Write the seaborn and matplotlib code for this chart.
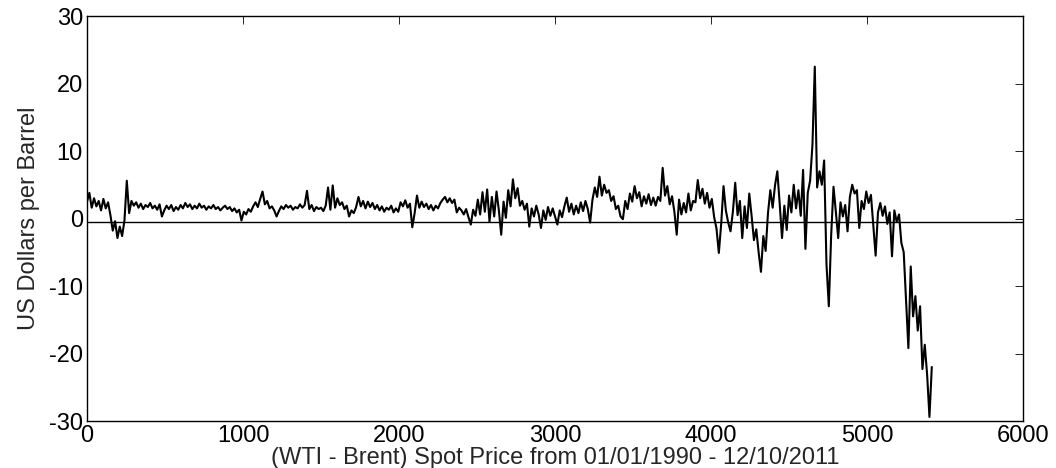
import numpy as np
import pandas as pd
import matplotlib
matplotlib.use('Agg')
import matplotlib.pyplot as plt
import seaborn as sns

# WTI - Brent spread, every 15 trading days
spread = [
    2.5, 3.8, 1.6, 3.0, 1.8, 2.6, 1.2, 2.9, 1.5, 2.4, 0.5, -1.8, -0.4, -2.9, -1.2, -2.6, -0.3, 5.6, 0.8, 2.6,
    1.9, 2.4, 1.6, 2.2, 1.4, 2.0, 1.7, 2.3, 1.5, 1.9, 1.3, 2.1, 0.3, 1.2, 1.9, 1.4, 2.0, 1.1, 1.7, 1.3,
    2.0, 1.5, 2.3, 1.7, 2.1, 1.4, 1.9, 1.5, 2.2, 1.6, 1.9, 1.3, 1.8, 1.5, 2.0, 1.4, 1.7, 1.2, 1.6, 1.9,
    1.4, 1.7, 1.1, 1.5, 0.9, 1.3, -0.3, 1.0, 0.6, 1.4, 1.0, 1.8, 2.4, 1.7, 2.9, 4.0, 2.1, 2.6, 1.5, 1.8,
    1.2, 0.3, 1.1, 1.8, 1.4, 2.0, 1.6, 1.9, 1.3, 1.7, 1.5, 2.1, 1.6, 2.0, 4.1, 1.4, 2.0, 1.1, 1.7, 1.4,
    1.6, 1.1, 1.9, 4.6, 1.3, 4.9, 1.6, 3.0, 2.0, 2.4, 1.4, 1.9, 0.3, 1.2, 0.8, 1.7, 3.2, 1.8, 2.6, 1.5,
    2.5, 1.7, 2.3, 1.4, 2.0, 1.2, 1.8, 1.0, 1.6, 1.3, 1.9, 0.9, 1.5, 1.0, 2.4, 1.8, 2.7, 1.6, 2.2, -1.3,
    0.8, 3.4, 1.6, 2.5, 1.7, 2.2, 1.4, 2.0, 1.2, 1.9, 1.5, 2.3, 2.8, 3.2, 2.4, 3.0, 2.3, 2.8, 0.9, 1.6,
    1.2, 0.6, 1.4, 0.2, -0.9, 1.3, 0.4, 2.8, 0.6, 3.9, 1.0, 4.3, -0.5, 3.2, 0.3, 4.0, 1.2, -2.4, 2.5, 0.1,
    4.2, 1.8, 5.8, 3.0, 4.5, 1.9, 2.6, 1.3, 2.2, -1.2, 1.5, 0.3, 1.9, 0.6, -1.4, 1.2, -0.2, 1.7, 0.4, 1.5,
    0.3, -0.9, 1.2, 0.2, 1.8, 3.1, 1.0, 2.2, 0.6, 1.9, 0.8, 2.4, 1.1, 2.6, 1.4, -0.6, 2.8, 4.6, 3.2, 6.2,
    3.4, 5.0, 3.8, 4.2, 2.6, 3.3, 1.4, 1.9, 0.3, -0.1, 2.6, 1.4, 3.7, 2.5, 4.8, 3.0, 3.9, 1.8, 3.3, 2.2,
    3.6, 2.0, 3.1, 1.9, 3.2, 2.6, 7.5, 3.4, 4.8, 2.1, 3.3, 1.0, -2.4, 2.8, 0.6, 2.3, 0.9, 3.7, 1.2, 2.6,
    2.4, 5.7, 3.0, 4.4, 2.2, 3.8, 1.6, 2.9, 0.2, -1.5, -5.1, -0.8, 4.8, 1.2, -0.6, -1.9, 1.0, 5.3, 0.5, 2.6,
    -2.9, 1.8, -1.4, 3.7, 0.4, -3.2, -1.6, -5.0, -7.9, -2.6, -4.8, 0.8, 4.2, 1.6, 4.9, 7.0, 2.2, -2.9, 1.9, -1.7,
    3.4, 0.9, 5.0, 1.5, 4.2, 0.4, 7.2, -4.5, 3.8, 5.6, 10.9, 22.5, 4.6, 7.0, 5.0, 8.6, -6.8, -13.0, -2.5, 4.7,
    1.0, -2.9, 2.4, 0.3, 2.0, -1.9, 3.2, 5.0, 3.7, 4.2, -1.4, 2.6, 1.4, 4.0, 2.3, 3.5, -0.9, -5.5, 0.9, 2.3,
    0.4, 1.8, -0.8, 0.9, -5.6, 1.2, -0.5, 0.6, -3.6, -5.0, -12.0, -19.2, -7.1, -14.5, -11.5, -16.6, -13.0, -22.3, -18.7, -23.1,
    -29.4, -22.0,
]
day_step = 15
days = np.arange(len(spread)) * day_step
ref_level = -0.5

xticks = [0, 1000, 2000, 3000, 4000, 5000, 6000]
yticks = [-30, -20, -10, 0, 10, 20, 30]

df = pd.DataFrame({'day': days, 'spread': spread})

sns.set_style('white')
plt.rcParams['font.family'] = ['Liberation Sans', 'DejaVu Sans']
plt.rcParams['axes.unicode_minus'] = False

fig = plt.figure(figsize=(10.56, 4.68), dpi=100)
ax = fig.add_axes([0.0824, 0.1004, 0.8864, 0.8654])

sns.lineplot(data=df, x='day', y='spread', ax=ax, color='black',
             linewidth=1.5, estimator=None)
ax.axhline(ref_level, color='black', linewidth=1.0)

ax.set_xlim(0, 6000)
ax.set_ylim(-30, 30)
ax.set_xticks(xticks)
ax.set_yticks(yticks)
ax.tick_params(direction='in', length=6, width=0.6, top=True, right=True,
               labelsize=17, pad=3, colors='black')
for s in ax.spines.values():
    s.set_visible(True)
    s.set_color('black')
    s.set_linewidth(1.0)

ax.set_xlabel('(WTI - Brent) Spot Price from 01/01/1990 - 12/10/2011', fontsize=17, labelpad=0)
ax.set_ylabel('US Dollars per Barrel', fontsize=17)
ax.yaxis.set_label_coords(-0.05, 0.5)

fig.savefig('out.png', dpi=100)
